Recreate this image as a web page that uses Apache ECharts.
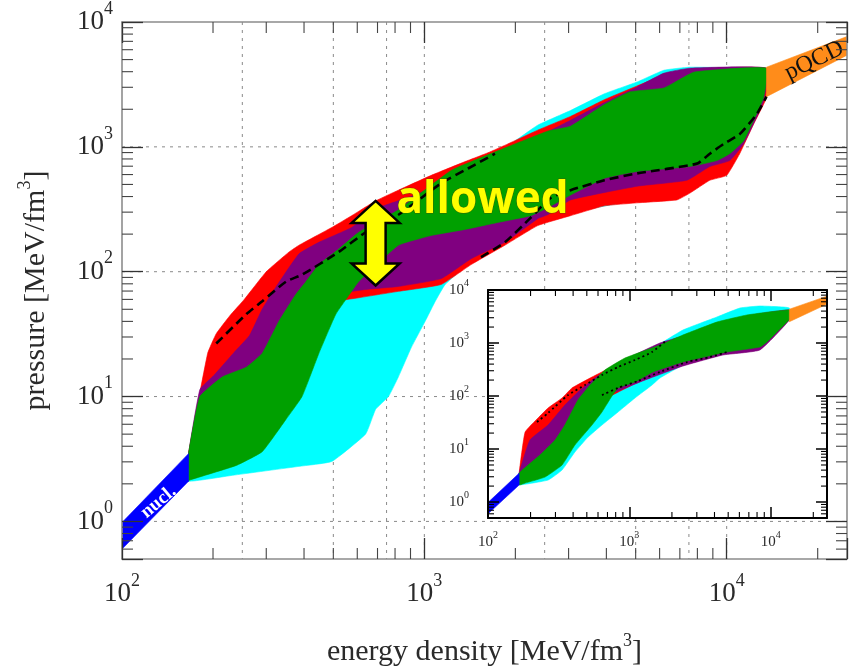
<!DOCTYPE html>
<html>
<head>
<meta charset="utf-8">
<script src="https://cdn.jsdelivr.net/npm/echarts@6/dist/echarts.min.js"></script>
<style>
  html, body { margin: 0; padding: 0; background: #fff; }
  #chart { width: 850px; height: 672px; }
</style>
</head>
<body>
<div id="chart"></div>
<script>
// points are [energy density, pressure] in MeV/fm^3

// shared bands (main plot and inset)
var nuclBand = [[100, 0.98], [166, 3.49], [166, 2.10], [100, 0.60]];
var pqcdBand = [[13540, 4345], [25000, 7650], [25000, 5420], [13540, 2523]];

// main plot
var cyanBottom = [[166, 2.10], [232, 2.34], [385, 2.76], [494, 3.02], [640, 5.02], [690, 7.90], [761, 10.0], [821, 14.4], [906, 24.8], [1008, 40.4], [1087, 58.0], [1172, 79.0], [1428, 120], [1847, 172], [2371, 248], [3045, 297], [5057, 376], [7385, 450], [9775, 635], [11370, 1156], [13030, 2388]];
var cyanTop = [[13030, 3755], [10790, 4266], [7557, 4345], [6206, 4111], [5057, 3311], [3939, 2661], [3045, 1956], [2371, 1491], [1889, 1019], [1506, 762], [955, 467], [562, 207], [331, 58.0], [227, 9.47], [166, 2.66]];
var redTop = [[166, 3.49], [192, 22.2], [205, 31.9], [227, 44.2], [254, 60.2], [300, 100], [357, 144], [385, 163], [494, 226], [575, 281], [690, 369], [821, 450], [1054, 591], [1364, 762], [1624, 897], [1889, 1056], [2371, 1361], [3045, 1754], [3939, 2388], [5057, 3076], [6206, 3755], [7557, 4188], [13540, 4266]];
var redBottom = [[13540, 2477], [12270, 1518], [11040, 881], [10000, 591], [8795, 540], [7557, 426], [6847, 376], [5057, 356], [3939, 337], [3045, 281], [2371, 234], [1847, 163], [1428, 114], [1137, 79.0], [821, 69.6], [593, 61.3], [521, 58.0], [385, 33.7], [244, 6.59], [166, 2.66]];
var purpleTop = [[166, 3.49], [181, 11.4], [202, 14.9], [235, 22.6], [264, 30.8], [291, 50.2], [324, 76.2], [385, 139], [448, 172], [575, 226], [690, 319], [934, 411], [1199, 540], [1540, 696], [2038, 964], [2371, 1199], [3045, 1632], [3939, 2262], [5057, 3020], [6206, 3896], [7557, 4266], [13540, 4266]];
var purpleBottom = [[13240, 2303], [11370, 1056], [10230, 776], [8795, 696], [7385, 540], [5057, 484], [3045, 376], [2558, 286], [2371, 266], [1847, 172], [1428, 127], [1137, 88.1], [821, 76.2], [640, 72.1], [521, 65.9], [385, 30.8], [244, 6.59], [166, 2.66]];
var greenTop = [[166, 3.49], [181, 10.0], [215, 14.4], [258, 17.2], [291, 22.2], [331, 40.4], [376, 65.9], [406, 83.4], [448, 114], [521, 152], [607, 207], [821, 313], [1227, 647], [1751, 930], [2558, 1336], [3045, 1463], [3939, 2181], [4796, 2761], [6206, 2965], [7789, 3966], [13540, 4266]];
var greenBottom = [[13240, 2477], [11370, 1115], [10230, 881], [9271, 776], [7557, 696], [5057, 635], [3939, 560], [3045, 411], [2558, 325], [2249, 281], [1751, 248], [1364, 218], [1054, 195], [821, 163], [607, 83.4], [575, 69.6], [510, 45.8], [448, 22.2], [394, 10.0], [349, 6.59], [291, 3.62], [239, 2.81], [167, 2.14], [166, 2.10]];
var dashUpper = [[205, 26.6], [258, 45.8], [291, 58.0], [349, 83.4], [394, 94.7], [521, 144], [640, 207], [821, 286], [1137, 511], [1395, 671], [1712, 881]];
var dashLower = [[1540, 131], [1847, 172], [2249, 271], [2617, 390], [3045, 450], [3939, 540], [5057, 613], [7967, 734], [8795, 881], [9775, 1056], [11040, 1265], [12550, 1820], [13540, 2523]];

// inset
var inCyanBottom = [[166, 2.10], [266, 2.60], [334, 4.02], [412, 8.78], [510, 16.8], [640, 28.4], [831, 49.9], [1095, 91.7], [1445, 161], [1646, 219], [2394, 380], [4592, 610], [8386, 760], [11610, 2100], [13540, 2716]];
var inCyanTop = [[13540, 4571], [12200, 4777], [8386, 4989], [6057, 4571], [4164, 3097], [2394, 1758], [1399, 738], [858, 338], [527, 119], [350, 20.9], [233, 4.99], [166, 2.6]];
var inRedTop = [[166, 3.49], [183, 20.9], [226, 38.5], [266, 59.4], [334, 91.7], [393, 142], [544, 228], [729, 338], [1189, 594], [2394, 1243], [6788, 2964], [13540, 4198]];
var inRedBottom = [[13540, 2800], [8386, 760], [4592, 610], [2394, 380], [1469, 235], [1095, 170], [831, 118], [620, 80.5], [527, 73.8], [380, 22.8], [233, 6.20], [166, 2.6]];
var inPurpleTop = [[166, 3.49], [198, 14.8], [266, 28.4], [350, 67.6], [433, 119], [571, 219], [858, 438], [1646, 1000], [2394, 1356], [6788, 3230], [13540, 4198]];
var inPurpleBottom = [[13540, 2716], [8386, 738], [4592, 594], [2394, 368], [1469, 228], [1189, 184], [831, 124], [672, 100], [447, 35.2], [274, 7.70], [166, 2.6]];
var inGreenTop = [[166, 3.49], [233, 7.70], [298, 14.8], [350, 28.4], [433, 84.1], [527, 161], [672, 310], [931, 521], [1646, 917], [2394, 1416], [4164, 2489], [6788, 3377], [13540, 4198]];
var inGreenBottom = [[13540, 2800], [11060, 1614], [9399, 1045], [8386, 841], [4900, 676], [2394, 438], [1469, 284], [1095, 184], [831, 142], [753, 100], [640, 49.9], [544, 28.4], [412, 11.9], [334, 4.99], [253, 2.96], [183, 2.28], [166, 2.10]];
var inDotUpper = [[222, 32.3], [266, 47.8], [368, 104], [485, 161], [640, 249], [831, 352], [1095, 478], [1445, 676], [1845, 1140]];
var inDotLower = [[640, 104], [831, 142], [1150, 192], [1646, 284], [2555, 438], [3716, 544], [4900, 676]];

// annotations
var arrowEnds = [[690, 369], [690, 77.6]];
var allowedAt = [809, 369];
var nuclAt = [132, 1.43];
var pqcdAt = [19500, 4900];

// axes and grid lines
var xRange = [100, 25000];
var yRange = [0.5, 10000];
var gridX = [250, 500, 750, 1000, 2500, 5000, 7500, 10000];
var gridY = [1, 10, 100, 1000];
var xMinor = [200, 300, 400, 500, 600, 700, 800, 900, 2000, 3000, 4000, 5000, 6000, 7000, 8000, 9000, 20000];
var yMinor = [0.6, 0.7, 0.8, 0.9, 2, 3, 4, 5, 6, 7, 8, 9, 20, 30, 40, 50, 60, 70, 80, 90, 200, 300, 400, 500, 600, 700, 800, 900, 2000, 3000, 4000, 5000, 6000, 7000, 8000, 9000];

var SERIF = "'Liberation Serif', 'DejaVu Serif', serif";

var chart = echarts.init(document.getElementById('chart'));

function powLabel(v) {
  var l = Math.log10(v);
  var e = Math.round(l);
  if (Math.abs(l - e) > 1e-6) return '';
  return '{b|10}{s|' + e + '}';
}

var mainRich = {
  b: { fontFamily: SERIF, fontSize: 27, lineHeight: 44, color: '#2a2a2a' },
  s: { fontFamily: SERIF, fontSize: 18, lineHeight: 18, verticalAlign: 'top', color: '#2a2a2a' }
};
var insetRich = {
  b: { fontFamily: SERIF, fontSize: 15, lineHeight: 24, color: '#2a2a2a' },
  s: { fontFamily: SERIF, fontSize: 10, lineHeight: 10, verticalAlign: 'top', color: '#2a2a2a' }
};
var nameRich = {
  n: { fontFamily: SERIF, fontSize: 30, lineHeight: 40, color: '#2a2a2a' },
  s: { fontFamily: SERIF, fontSize: 18, lineHeight: 18, verticalAlign: 'top', color: '#2a2a2a' }
};

function logAxis(grid, pos, main, showLabel, extra) {
  var ax = {
    gridIndex: grid,
    type: 'log',
    min: pos === 'left' || pos === 'right' ? yRange[0] : xRange[0],
    max: pos === 'left' || pos === 'right' ? yRange[1] : xRange[1],
    position: pos,
    z: 10,
    axisLine: { lineStyle: { color: main ? '#8c8c8c' : '#000', width: main ? 1.6 : 2 } },
    axisTick: { inside: true, length: main ? 21 : 11, lineStyle: { color: main ? '#333' : '#000', width: main ? 1.3 : 1.5 } },
    axisLabel: { show: showLabel, formatter: powLabel, rich: main ? mainRich : insetRich },
    splitLine: { show: false }
  };
  return Object.assign(ax, extra || {});
}

// filled region drawn as one polygon through the axis scales
function band(outline, color, axis, z, smooth) {
  return {
    type: 'custom', xAxisIndex: axis, yAxisIndex: axis, z: z, silent: true, clip: true,
    data: outline,
    renderItem: function (params, api) {
      if (params.dataIndex !== 0) return null;
      var pts = outline.map(function (p) { return api.coord(p); });
      return { type: 'polygon', shape: { points: pts, smooth: smooth || 0 }, style: { fill: color, stroke: color, lineWidth: 0.6 } };
    }
  };
}

function curve(points, dash, width, axis, z) {
  return {
    type: 'line', xAxisIndex: axis, yAxisIndex: axis, z: z, silent: true,
    data: points, symbol: 'none', smooth: 0.2,
    lineStyle: { color: '#000', width: width, type: dash }
  };
}

function gridLines(values, vertical) {
  return {
    type: 'custom', xAxisIndex: 0, yAxisIndex: 0, z: 1, silent: true,
    data: values.map(function (v) { return vertical ? [v, 1] : [100, v]; }),
    renderItem: function (params, api) {
      var cs = params.coordSys;
      var p = api.coord([api.value(0), api.value(1)]);
      var shape = vertical
        ? { x1: p[0], y1: cs.y, x2: p[0], y2: cs.y + cs.height }
        : { x1: cs.x, y1: p[1], x2: cs.x + cs.width, y2: p[1] };
      return { type: 'line', shape: shape, style: { stroke: '#8a8a8a', lineWidth: 1, lineDash: [3, 5] } };
    }
  };
}

function minorTicks(values, vertical, axis, len, color) {
  return {
    type: 'custom', xAxisIndex: axis, yAxisIndex: axis, z: 11, silent: true, clip: false,
    data: values.map(function (v) { return vertical ? [v, 1] : [100, v]; }),
    renderItem: function (params, api) {
      var cs = params.coordSys;
      var p = api.coord([api.value(0), api.value(1)]);
      var st = { stroke: color, lineWidth: 1.1 };
      var a, b;
      if (vertical) {
        a = { x1: p[0], y1: cs.y + cs.height, x2: p[0], y2: cs.y + cs.height - len };
        b = { x1: p[0], y1: cs.y, x2: p[0], y2: cs.y + len };
      } else {
        a = { x1: cs.x, y1: p[1], x2: cs.x + len, y2: p[1] };
        b = { x1: cs.x + cs.width, y1: p[1], x2: cs.x + cs.width - len, y2: p[1] };
      }
      return { type: 'group', children: [{ type: 'line', shape: a, style: st }, { type: 'line', shape: b, style: st }] };
    }
  };
}

function textMark(at, text, style, rotDeg, z) {
  return {
    type: 'custom', xAxisIndex: 0, yAxisIndex: 0, z: z, silent: true, clip: false,
    data: [at],
    renderItem: function (params, api) {
      var p = api.coord(at);
      return {
        type: 'text', x: p[0], y: p[1], rotation: rotDeg * Math.PI / 180,
        style: Object.assign({ text: text, align: 'center', verticalAlign: 'middle' }, style)
      };
    }
  };
}

var arrowSeries = {
  type: 'custom', xAxisIndex: 0, yAxisIndex: 0, z: 4, silent: true,
  data: arrowEnds,
  renderItem: function (params, api) {
    if (params.dataIndex !== 0) return null;
    var t = api.coord(arrowEnds[0]), b = api.coord(arrowEnds[1]);
    var cx = t[0], hh = 22, hw = 24, sw = 10;
    var pts = [[cx, t[1]], [cx + hw, t[1] + hh], [cx + sw, t[1] + hh], [cx + sw, b[1] - hh], [cx + hw, b[1] - hh],
      [cx, b[1]], [cx - hw, b[1] - hh], [cx - sw, b[1] - hh], [cx - sw, t[1] + hh], [cx - hw, t[1] + hh]];
    return { type: 'polygon', shape: { points: pts }, style: { fill: '#ffff00', stroke: '#000', lineWidth: 2.5, lineJoin: 'miter' } };
  }
};

var insetBg = {
  type: 'custom', xAxisIndex: 2, yAxisIndex: 2, z: 5, silent: true, clip: false,
  data: [[1000, 10]],
  renderItem: function (params) {
    var cs = params.coordSys;
    return { type: 'rect', shape: { x: cs.x, y: cs.y, width: cs.width, height: cs.height }, style: { fill: '#fff' } };
  }
};

var option = {
  animation: false,
  backgroundColor: '#fff',
  grid: [
    { left: 122, top: 16, right: 0, bottom: 110 },
    { left: 488, top: 290, width: 339, height: 228 }
  ],
  xAxis: [
    logAxis(0, 'bottom', true, true, {
      axisLabel: { formatter: powLabel, rich: mainRich, margin: 13 },
      name: '{n|energy density [MeV/fm}{s|3}{n|]}', nameLocation: 'middle', nameGap: 73,
      nameTextStyle: { rich: nameRich }
    }),
    logAxis(0, 'top', true, false),
    logAxis(1, 'bottom', false, true, { axisLabel: { formatter: powLabel, rich: insetRich, margin: 12 } }),
    logAxis(1, 'top', false, false)
  ],
  yAxis: [
    logAxis(0, 'left', true, true, {
      axisLabel: { formatter: powLabel, rich: mainRich, margin: 9 },
      name: '{n|pressure [MeV/fm}{s|3}{n|]}', nameLocation: 'middle', nameGap: 66,
      nameTextStyle: { rich: nameRich }
    }),
    logAxis(0, 'right', true, false),
    logAxis(1, 'left', false, true, { axisLabel: { formatter: powLabel, rich: insetRich, margin: 19 } }),
    logAxis(1, 'right', false, false)
  ],
  series: [
    gridLines(gridX, true),
    gridLines(gridY, false),
    band(cyanBottom.concat(cyanTop), '#00ffff', 0, 2, 0.12),
    band(redTop.concat(redBottom), '#ff0000', 0, 2, 0.12),
    band(purpleTop.concat(purpleBottom), '#800080', 0, 2, 0.12),
    band(greenTop.concat(greenBottom), '#00a000', 0, 2, 0.12),
    band(nuclBand, '#0000ff', 0, 2, 0),
    band(pqcdBand, '#ff8c1a', 0, 2, 0),
    curve(dashUpper, [9, 5], 2.6, 0, 3),
    curve(dashLower, [9, 5], 2.6, 0, 3),
    arrowSeries,
    textMark(allowedAt, 'allowed', { align: 'left', fill: '#ffff00', stroke: 'rgba(80,80,0,0.7)', lineWidth: 1, fontFamily: "'Open Sans', Lato, sans-serif", fontWeight: 'bold', fontSize: 44 }, 0, 4),
    textMark(nuclAt, 'nucl.', { fill: '#fff', fontFamily: SERIF, fontWeight: 'bold', fontSize: 19 }, 40, 4),
    textMark(pqcdAt, 'pQCD', { fill: '#111', fontFamily: SERIF, fontSize: 24 }, 26, 4),
    insetBg,
    band(inCyanBottom.concat(inCyanTop), '#00ffff', 2, 6, 0.12),
    band(inRedTop.concat(inRedBottom), '#ff0000', 2, 6, 0.12),
    band(inPurpleTop.concat(inPurpleBottom), '#800080', 2, 6, 0.12),
    band(inGreenTop.concat(inGreenBottom), '#00a000', 2, 6, 0.12),
    band(nuclBand, '#0000ff', 2, 6, 0),
    band(pqcdBand, '#ff8c1a', 2, 6, 0),
    curve(inDotUpper, [2, 3], 1.8, 2, 7),
    curve(inDotLower, [2, 3], 1.8, 2, 7),
    minorTicks(xMinor, true, 0, 11, '#444'),
    minorTicks(yMinor, false, 0, 11, '#444'),
    minorTicks(xMinor, true, 2, 6, '#000'),
    minorTicks(yMinor, false, 2, 6, '#000')
  ]
};

chart.setOption(option);

window.addEventListener('resize', function () {
  chart.resize();
});
</script>
</body>
</html>
